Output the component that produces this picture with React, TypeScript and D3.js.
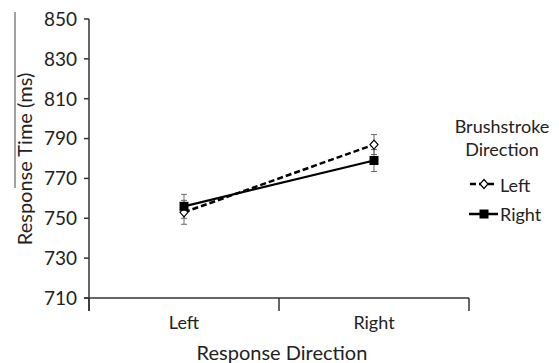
import React from 'react';
import * as d3 from 'd3';

// data
const categories = ['Left', 'Right'];
const yTicks = [710, 730, 750, 770, 790, 810, 830, 850];
const leftBrush = [753, 787];
const leftBrushErr = [6, 5];
const rightBrush = [756, 779];
const rightBrushErr = [6, 5.5];

const W = 559, H = 363;
const margin = { top: 19, left: 89, right: 90, bottom: 65 };
const FONT = 'Lato, "Open Sans", sans-serif';
const AXIS = '#333';

export default function App() {
  const x = d3.scaleBand<string>()
    .domain(categories)
    .range([margin.left, W - margin.right]);
  const y = d3.scaleLinear()
    .domain([710, 850])
    .range([H - margin.bottom, margin.top]);

  const cx = (c: string) => (x(c) as number) + x.bandwidth() / 2;
  const line = d3.line<number>()
    .x((d, i) => cx(categories[i]))
    .y(d => y(d));

  const y0 = y(710);
  const xEdges = [margin.left, ...categories.map(c => (x(c) as number) + x.bandwidth())];

  const errBars = (vals: number[], errs: number[], key: string) =>
    vals.map((v, i) => {
      const px = cx(categories[i]);
      const top = y(v + errs[i]), bot = y(v - errs[i]);
      return (
        <g key={key + i} stroke="#666" strokeWidth={1}>
          <line x1={px} x2={px} y1={top} y2={bot} />
          <line x1={px - 3} x2={px + 3} y1={top} y2={top} />
          <line x1={px - 3} x2={px + 3} y1={bot} y2={bot} />
        </g>
      );
    });

  const diamond = (px: number, py: number, k: string) => (
    <path key={k} d={`M${px},${py - 4.5}L${px + 4},${py}L${px},${py + 4.5}L${px - 4},${py}Z`}
      fill="#fff" stroke="#000" strokeWidth={1.2} />
  );
  const square = (px: number, py: number, k: string) => (
    <rect key={k} x={px - 4.5} y={py - 4.5} width={9} height={9} fill="#000" />
  );

  return (
    <svg width={W} height={H} style={{ position: 'absolute', left: 0, top: 0, background: '#fff' }}
      fontFamily={FONT}>
      {/* stray rule next to the y title, as in the source image */}
      <line x1={15} x2={15} y1={12} y2={188} stroke="#444" strokeWidth={1} />

      {/* y axis */}
      <line x1={margin.left} x2={margin.left} y1={y(850)} y2={y0 + 13} stroke={AXIS} strokeWidth={1.5} />
      {yTicks.map(t => (
        <g key={t}>
          <line x1={margin.left - 5} x2={margin.left} y1={y(t)} y2={y(t)} stroke={AXIS} strokeWidth={1.5} />
          <text x={77} y={y(t)} dy="0.36em" textAnchor="end" fontSize={19} fill="#222">{t}</text>
        </g>
      ))}

      {/* x axis */}
      <line x1={margin.left - 5} x2={W - margin.right} y1={y0} y2={y0} stroke={AXIS} strokeWidth={1.5} />
      {xEdges.map((e, i) => (
        <line key={i} x1={e} x2={e} y1={y0} y2={y0 + 13} stroke={AXIS} strokeWidth={1.5} />
      ))}
      {categories.map(c => (
        <text key={c} x={cx(c)} y={329} textAnchor="middle" fontSize={18} fill="#222">{c}</text>
      ))}

      <text x={282} y={360} textAnchor="middle" fontSize={20} fill="#222">Response Direction</text>
      <text transform={`translate(32,159) rotate(-90)`} textAnchor="middle" fontSize={20} fill="#222">
        Response Time (ms)
      </text>

      {/* error bars */}
      {errBars(leftBrush, leftBrushErr, 'l')}
      {errBars(rightBrush, rightBrushErr, 'r')}

      {/* lines */}
      <path d={line(leftBrush) ?? ''} fill="none" stroke="#000" strokeWidth={2.5} strokeDasharray="6,3" />
      <path d={line(rightBrush) ?? ''} fill="none" stroke="#000" strokeWidth={2.2} />

      {/* markers */}
      {leftBrush.map((v, i) => diamond(cx(categories[i]), y(v), 'd' + i))}
      {rightBrush.map((v, i) => square(cx(categories[i]), y(v), 's' + i))}

      {/* legend */}
      <g fontSize={18} fill="#222">
        <text x={502} y={133} textAnchor="middle">Brushstroke</text>
        <text x={502} y={156} textAnchor="middle">Direction</text>
        <line x1={470} x2={496} y1={184} y2={184} stroke="#000" strokeWidth={2.5} strokeDasharray="6,3" />
        {diamond(484, 184, 'ld')}
        <text x={500} y={192}>Left</text>
        <line x1={469} x2={498} y1={214} y2={214} stroke="#000" strokeWidth={2.5} />
        {square(484, 214, 'ls')}
        <text x={500} y={221}>Right</text>
      </g>
    </svg>
  );
}
